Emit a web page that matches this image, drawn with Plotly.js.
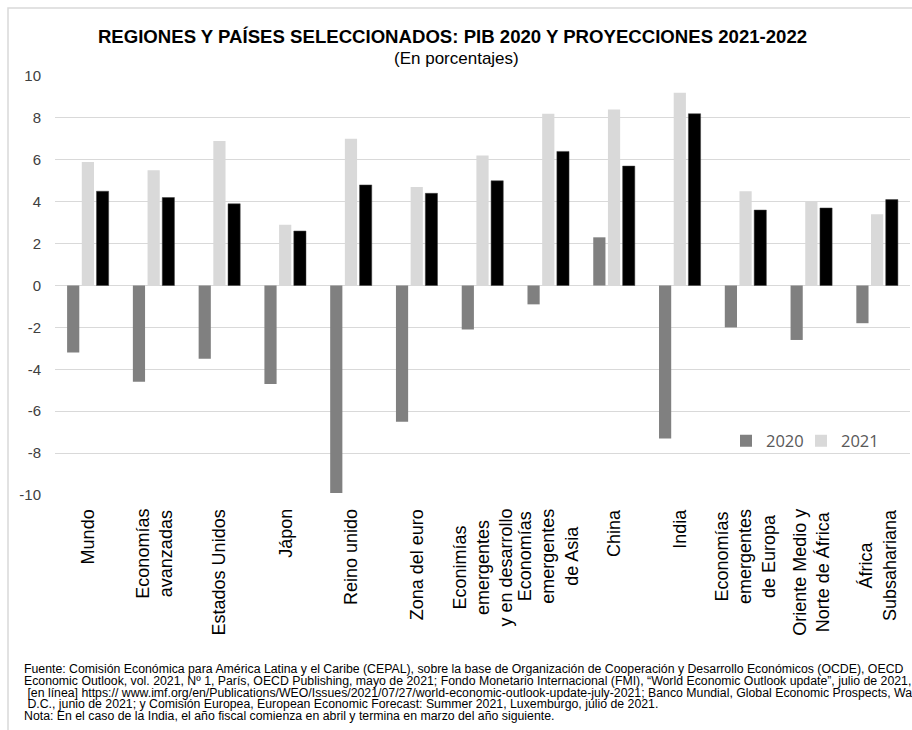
<!DOCTYPE html>
<html>
<head>
<meta charset="utf-8">
<script src="https://cdn.plot.ly/plotly-3.0.1.min.js"></script>
<style>
html,body{margin:0;padding:0;background:#fff;}
#chart{width:912px;height:730px;}
</style>
</head>
<body>
<div id="chart"></div>
<script>
var categories = ["Mundo","Economías<br>avanzadas","Estados Unidos","Jápon","Reino unido","Zona del euro","Econimías<br>emergentes<br>y en desarrollo","Economías<br>emergentes<br>de Asia","China","India","Economías<br>emergentes<br>de Europa","Oriente Medio y<br>Norte de África","África<br>Subsahariana"];
var pib2020 = [-3.2,-4.6,-3.5,-4.7,-9.9,-6.5,-2.1,-0.9,2.3,-7.3,-2.0,-2.6,-1.8];
var pib2021 = [5.9,5.5,6.9,2.9,7.0,4.7,6.2,8.2,8.4,9.2,4.5,4.0,3.4];
var pib2022 = [4.5,4.2,3.9,2.6,4.8,4.4,5.0,6.4,5.7,8.2,3.6,3.7,4.1];
var yTicks = [-10,-8,-6,-4,-2,0,2,4,6,8,10];
var titleText = "REGIONES Y PAÍSES SELECCIONADOS: PIB 2020 Y PROYECCIONES 2021-2022";
var subtitleText = "(En porcentajes)";
var footnote = [
 "Fuente: Comisión Económica para América Latina y el Caribe (CEPAL), sobre la base de Organización de Cooperación y Desarrollo Económicos (OCDE), OECD",
 "Economic Outlook, vol. 2021, Nº 1, París, OECD Publishing, mayo de 2021; Fondo Monetario Internacional (FMI), “World Economic Outlook update”, julio de 2021,",
 " [en línea] https:// www.imf.org/en/Publications/WEO/Issues/2021/07/27/world-economic-outlook-update-july-2021; Banco Mundial, Global Economic Prospects, Washington",
 " D.C., junio de 2021; y Comisión Europea, European Economic Forecast: Summer 2021, Luxemburgo, julio de 2021.",
 "Nota: En el caso de la India, el año fiscal comienza en abril y termina en marzo del año siguiente."
];

var base = "'Liberation Sans',Arial,sans-serif";
var W = 912, H = 730, ML = 55, MR = 2, MT = 76, MB = 235;
var PW = W - ML - MR, PH = H - MT - MB;
function px2x(px){ return (px - ML) / PW; }
function px2y(py){ return (H - MB - py) / PH; }

var traces = [
 {type:'bar', name:'2020', x:categories, y:pib2020, marker:{color:'#808080'}},
 {type:'bar', name:'2021', x:categories, y:pib2021, marker:{color:'#d9d9d9'}},
 {type:'bar', name:'2022', x:categories, y:pib2022, marker:{color:'#000000', line:{color:'#404040', width:0.5}}, showlegend:false}
];

var annotations = categories.map(function(c){
  return {xref:'x', yref:'paper', x:c, y:0, yshift:-12, xanchor:'center', yanchor:'top',
    text:c, textangle:-90, showarrow:false, align:'center',
    font:{family:base, size:18, color:'#000'}};
});
annotations.push({xref:'paper', yref:'paper', x:px2x(456), y:px2y(59), xanchor:'center', yanchor:'middle',
  text:subtitleText, showarrow:false, font:{family:base, size:17, color:'#000'}});
var footY = [669, 680.8, 692.6, 704.4, 716.2];
footnote.forEach(function(line, i){
  annotations.push({xref:'paper', yref:'paper', x:px2x(22), y:px2y(footY[i]), xanchor:'left', yanchor:'middle',
    text:line, showarrow:false, align:'left',
    font:{family:base, size:12.3, color:'#000'}});
});

var layout = {
  width:W, height:H,
  margin:{l:ML, r:MR, t:MT, b:MB},
  paper_bgcolor:'#fff', plot_bgcolor:'#fff',
  title:{text:'<b>'+titleText+'</b>', x:452.5/W, xanchor:'center', y:1-36/H, yanchor:'middle',
    font:{family:base, size:18.6, color:'#000'}},
  barmode:'group', bargap:0.33, bargroupgap:0.17,
  showlegend:true,
  legend:{orientation:'h', x:px2x(726), xanchor:'left', y:px2y(441), yanchor:'middle',
    font:{family:"'Open Sans',sans-serif", size:16.5, color:'#595959'}, bgcolor:'rgba(0,0,0,0)', traceorder:'normal',
    entrywidth:30, entrywidthmode:'pixels'},
  xaxis:{type:'category', showticklabels:false, showgrid:false, zeroline:false, showline:false, ticks:''},
  yaxis:{range:[-10,10], tickvals:yTicks, ticktext:yTicks.map(String),
    showgrid:true, gridcolor:'#d9d9d9', gridwidth:1, zeroline:true, zerolinecolor:'#d9d9d9', zerolinewidth:1,
    showline:false, ticks:'outside', ticklen:10, tickcolor:'rgba(0,0,0,0)',
    tickfont:{family:base, size:15, color:'#404040'}},
  annotations:annotations,
  shapes:[{type:'rect', xref:'paper', yref:'paper', x0:px2x(8), x1:px2x(1000), y0:px2y(1000), y1:px2y(8),
    line:{color:'#d9d9d9', width:1.5}, fillcolor:'rgba(0,0,0,0)'}]
};

Plotly.newPlot('chart', traces, layout, {displayModeBar:false, staticPlot:true});
</script>
</body>
</html>
